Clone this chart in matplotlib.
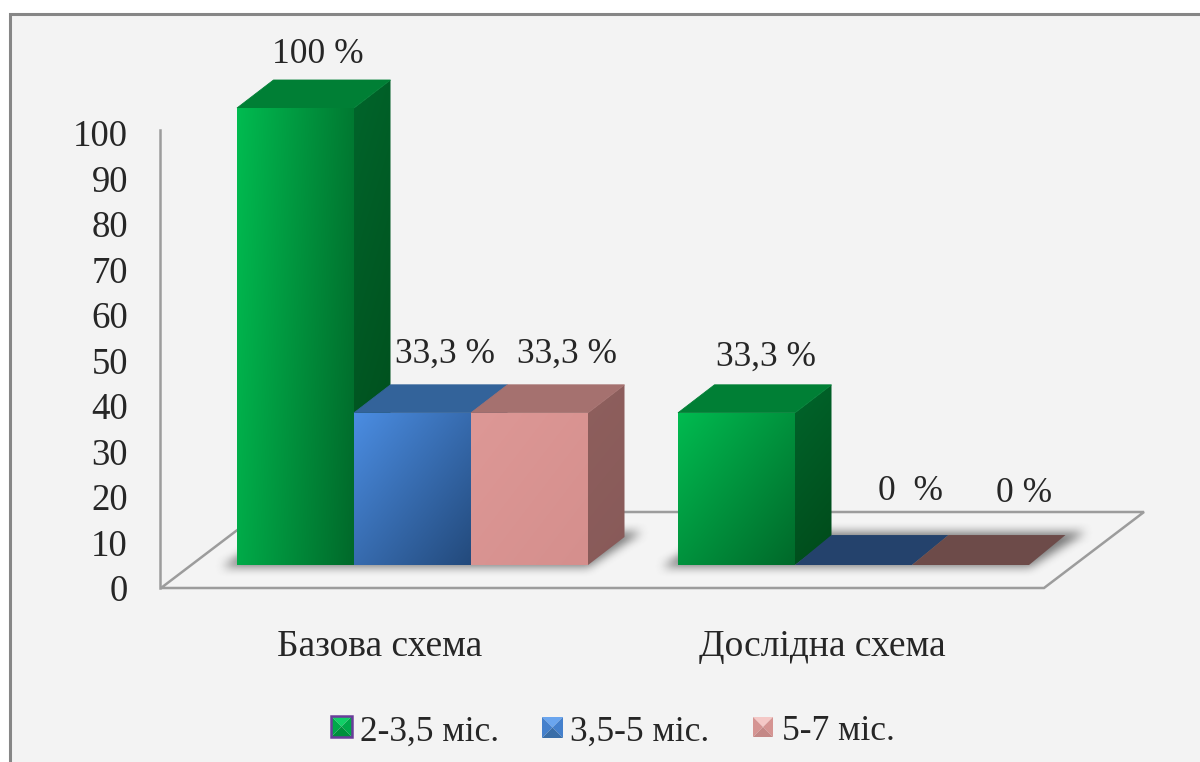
import matplotlib
matplotlib.use("Agg")
import matplotlib.pyplot as plt
import numpy as np
from matplotlib.colors import to_rgb
from matplotlib.path import Path
from matplotlib.patches import Polygon, Rectangle

plt.rcParams["font.family"] = ["Liberation Serif", "DejaVu Serif"]

categories = ["Базова схема", "Дослідна схема"]
series_names = ["2-3,5 міс.", "3,5-5 міс.", "5-7 міс."]
base_values = [100, 33.3, 33.3]
test_values = [33.3, 0, 0]
base_labels = ["100 %", "33,3 %", "33,3 %"]
test_labels = ["33,3 %", "0  %", "0 %"]
y_ticks = [0, 10, 20, 30, 40, 50, 60, 70, 80, 90, 100]

# face light, face dark, top, side light, side dark, flat (zero height) colour
styles = [
    ("#00bb50", "#00692a", "#007f35", "#00652b", "#004a1a", "#007f35"),
    ("#4b8de2", "#234a7c", "#33639a", "#2a5488", "#1f3f66", "#24426c"),
    ("#dd9896", "#d58f8d", "#a5716f", "#8e5f5d", "#885a59", "#6d4b49"),
]

W, H = 1200, 762
TEXT = "#262626"
LINE = "#9c9c9c"
SLOT = 117.0       # bar width in px
DX, DY = 36.5, 28  # 3d depth in px
PX_PER_UNIT = 4.57
BASE_PX = 565
GROUP_GAP = 441 / SLOT   # slots between group starts

fig = plt.figure(figsize=(W / 100, H / 100), dpi=100)
fig.patch.set_facecolor("white")

# pixel axes for the chart furniture
bg = fig.add_axes([0, 0, 1, 1])
bg.set_xlim(0, W)
bg.set_ylim(H, 0)
bg.axis("off")
bg.add_patch(Rectangle((9.5, 13.5), W + 20, H + 20, fc="#f3f3f3", ec="#868686", lw=2.2))

# floor and value axis
bg.add_patch(Polygon([(161, 588), (1044, 588), (1144, 512), (261, 512)], closed=True,
                     fc="#f4f4f4", ec=LINE, lw=1.8))
bg.plot([160, 160], [130, 588], color=LINE, lw=1.8)


def blurred(polygons, size=11):
    xx, yy = np.meshgrid(np.arange(W), np.arange(H))
    pts = np.column_stack([xx.ravel() + 0.5, yy.ravel() + 0.5])
    mask = np.zeros(W * H)
    for poly in polygons:
        mask = np.maximum(mask, Path(poly).contains_points(pts).astype(float))
    mask = mask.reshape(H, W)
    kernel = np.ones(size) / size
    for _ in range(2):
        mask = np.apply_along_axis(lambda r: np.convolve(r, kernel, mode="same"), 0, mask)
    for _ in range(2):
        mask = np.apply_along_axis(lambda r: np.convolve(r, kernel, mode="same"), 1, mask)
    return mask


shadow = blurred([[(222, 567), (588, 567), (642, 532), (276, 532)],
                  [(662, 567), (1030, 567), (1086, 532), (716, 532)]])
rgba = np.zeros((H, W, 4))
rgba[..., :3] = 0.25
rgba[..., 3] = shadow * 0.68
bg.imshow(rgba, extent=(0, W, H, 0), aspect="auto", zorder=2, interpolation="bilinear")
bg.set_xlim(0, W)
bg.set_ylim(H, 0)

# value axes: x in bar slots, y in percent, bar base sits on zero
ax = fig.add_axes([0, 0, 1, 1])
ax.patch.set_alpha(0)
ax.axis("off")
x_left = -237 / SLOT
x_right = (W - 237) / SLOT
y_bottom = (BASE_PX - H) / PX_PER_UNIT
y_top = BASE_PX / PX_PER_UNIT
dx = DX / SLOT
dy = DY / PX_PER_UNIT


def gradient_face(poly, c0, c1, box, weight=(0.5, 0.5), zorder=3):
    patch = Polygon(poly, closed=True, fc="none", ec="none", transform=ax.transData)
    ax.add_patch(patch)
    gx, gy = np.meshgrid(np.linspace(0, 1, 64), np.linspace(0, 1, 64))
    t = (weight[0] * gx + weight[1] * gy)[..., None]
    img = np.array(to_rgb(c0)) * (1 - t) + np.array(to_rgb(c1)) * t
    im = ax.imshow(img, extent=box, origin="upper", aspect="auto", zorder=zorder,
                   interpolation="bilinear")
    im.set_clip_path(patch)


def draw_bar(x, value, style, zorder):
    light, dark, top, side_l, side_d, flat = style
    if value == 0:
        ax.add_patch(Polygon([(x, 0), (x + 1, 0), (x + 1 + dx, dy * 1.07), (x + dx, dy * 1.07)],
                             closed=True, fc=flat, ec="none", zorder=zorder))
        return
    gradient_face([(x + 1, 0), (x + 1 + dx, dy), (x + 1 + dx, value + dy), (x + 1, value)],
                  side_l, side_d, (x + 1, x + 1 + dx, 0, value + dy), (0.2, 0.8), zorder)
    ax.add_patch(Polygon([(x, value), (x + 1, value), (x + 1 + dx, value + dy), (x + dx, value + dy)],
                         closed=True, fc=top, ec=top, lw=0.6, zorder=zorder))
    weight = (0.8, 0.2) if value > 50 else (0.5, 0.5)
    gradient_face([(x, 0), (x + 1, 0), (x + 1, value), (x, value)],
                  light, dark, (x, x + 1, 0, value), weight, zorder + 0.1)


# draw back to front so later bars cover neighbours' sides
for g, values in enumerate([base_values, test_values]):
    start = g * GROUP_GAP
    for i, v in enumerate(values):
        draw_bar(start + i, v, styles[i], 3 + g + i * 0.2)

ax.set_xlim(x_left, x_right)
ax.set_ylim(y_bottom, y_top)

# data label offsets from each bar's centre (slots) and top (percent)
label_dx = [(0.19, 0.28, 0.32), (0.255, 0.49, 0.46)]
label_dy = [(11.8, 12.8, 12.8), (12.2, 16.0, 15.6)]
for g, (values, labels) in enumerate(zip([base_values, test_values], [base_labels, test_labels])):
    start = g * GROUP_GAP
    for i, (v, lab) in enumerate(zip(values, labels)):
        ax.text(start + i + 0.5 + label_dx[g][i], v + label_dy[g][i], lab, ha="center", va="center",
                fontsize=25.5, color=TEXT, zorder=10)

# tick labels sit on the front edge of the floor
for t in y_ticks:
    bg.text(128, 592 - t * 4.55, str(t), ha="right", va="center", fontsize=26.5, color=TEXT)

for name, cx in zip(categories, [380, 822]):
    bg.text(cx, 647, name, ha="center", va="center", fontsize=27, color=TEXT)


def legend_marker(x0, y0, s, light, mid, dark, border=None):
    x1, y1 = x0 + s, y0 + s
    cx, cy = x0 + s / 2, y0 + s / 2
    bg.add_patch(Polygon([(x0, y0), (x1, y0), (cx, cy)], fc=light, ec="none"))
    bg.add_patch(Polygon([(x0, y0), (x0, y1), (cx, cy)], fc=mid, ec="none"))
    bg.add_patch(Polygon([(x1, y0), (x1, y1), (cx, cy)], fc=mid, ec="none"))
    bg.add_patch(Polygon([(x0, y1), (x1, y1), (cx, cy)], fc=dark, ec="none"))
    if border:
        bg.add_patch(Rectangle((x0, y0), s, s, fc="none", ec=border, lw=1.8))


marker_styles = [
    ("#10d066", "#00a84a", "#008f3c", "#6a3d9a", 331, 716, 21),
    ("#6aa5ee", "#4480cc", "#3a6ea8", None, 542, 717, 21),
    ("#f4c8c6", "#d59492", "#c48886", None, 753, 717, 20),
]
for name, (c0, c1, c2, border, mx, my, s), tx in zip(series_names, marker_styles, [360, 570, 782]):
    legend_marker(mx, my, s, c0, c1, c2, border)
    bg.text(tx, 732, name, ha="left", va="center", fontsize=25.5, color=TEXT)

fig.savefig("out.png", dpi=100)
plt.close(fig)
